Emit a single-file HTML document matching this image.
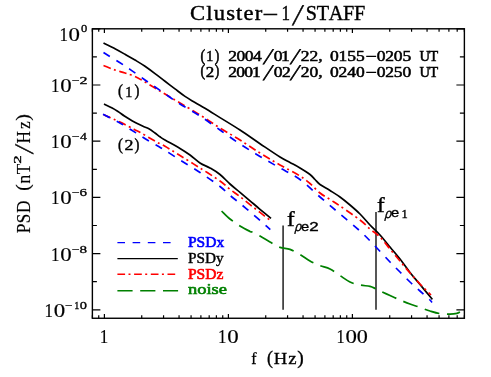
<!DOCTYPE html><html><head><meta charset="utf-8"><style>html,body{margin:0;padding:0;background:#fff;overflow:hidden}svg{display:block;mix-blend-mode:multiply}text{font-family:"Liberation Serif",serif;fill:#000}</style></head><body>
<svg width="491" height="377" viewBox="0 0 491 377">
<rect width="491" height="377" fill="#fff"/>
<path d="M283.1,225.4V309.8M376,212.1V309.8" stroke="#3a3a3a" stroke-width="1.7" fill="none"/>
<path d="M221.6,211.0C223.0,212.3 226.9,216.5 230.0,219.0C233.1,221.5 236.7,223.9 240.0,226.0C243.3,228.1 248.0,230.4 250.0,231.4C252.0,232.4 250.3,231.2 252.0,232.0C253.7,232.8 257.0,234.3 260.0,236.0C263.0,237.7 266.7,240.1 270.0,242.0C273.3,243.9 276.7,246.2 280.0,247.4C283.3,248.6 286.7,248.2 290.0,249.4C293.3,250.6 296.7,252.6 300.0,254.5C303.3,256.4 306.7,259.1 310.0,261.0C313.3,262.9 316.7,264.3 320.0,265.6C323.3,266.9 326.7,267.3 330.0,269.0C333.3,270.7 336.7,273.4 340.0,275.6C343.3,277.8 346.7,280.4 350.0,282.0C353.3,283.6 356.7,284.3 360.0,285.0C363.3,285.7 367.5,285.8 370.0,286.4C372.5,287.0 373.3,287.6 375.0,288.4C376.7,289.2 377.5,289.8 380.0,291.0C382.5,292.2 386.7,294.0 390.0,295.5C393.3,297.0 396.7,298.6 400.0,300.0C403.3,301.4 406.7,302.8 410.0,304.0C413.3,305.2 416.7,306.2 420.0,307.4C423.3,308.6 426.7,310.0 430.0,311.0C433.3,312.0 436.7,313.1 440.0,313.6C443.3,314.1 447.2,314.2 450.0,314.2C452.8,314.2 455.3,313.8 457.0,313.4C458.7,313.0 459.5,312.2 460.0,312.0" stroke="#008000" stroke-width="1.7" fill="none" stroke-dasharray="15.2 7.6"/>
<path d="M103.5,43.0C105.4,44.0 111.4,46.8 115.0,48.7C118.6,50.6 121.7,52.4 125.0,54.3C128.3,56.2 131.7,58.0 135.0,60.0C138.3,62.0 141.7,64.0 145.0,66.3C148.3,68.6 151.7,71.1 155.0,73.6C158.3,76.1 161.7,78.8 165.0,81.3C168.3,83.8 171.7,86.4 175.0,88.9C178.3,91.4 181.7,94.1 185.0,96.4C188.3,98.7 191.7,100.5 195.0,102.5C198.3,104.5 200.8,105.8 205.0,108.3C209.2,110.8 214.2,114.0 220.0,117.6C225.8,121.2 233.3,125.7 240.0,130.0C246.7,134.3 253.3,139.2 260.0,143.7C266.7,148.2 275.0,153.9 280.0,157.0C285.0,160.1 286.7,160.7 290.0,162.5C293.3,164.3 296.7,166.0 300.0,168.0C303.3,170.0 307.5,172.6 310.0,174.5C312.5,176.4 313.3,177.8 315.0,179.5C316.7,181.2 317.5,182.7 320.0,184.5C322.5,186.3 326.7,188.4 330.0,190.5C333.3,192.6 336.7,194.6 340.0,197.0C343.3,199.4 346.7,202.2 350.0,205.0C353.3,207.8 356.7,210.7 360.0,214.0C363.3,217.3 366.7,221.5 370.0,225.0C373.3,228.5 376.7,231.3 380.0,235.0C383.3,238.7 386.7,243.0 390.0,247.0C393.3,251.0 396.7,254.8 400.0,259.0C403.3,263.2 406.7,268.2 410.0,272.5C413.3,276.8 416.7,280.5 420.0,284.5C423.3,288.5 427.9,294.0 430.0,296.5C432.1,299.0 432.0,298.9 432.4,299.4" stroke="#000" stroke-width="1.7" fill="none"/>
<path d="M104.0,104.0C105.4,104.7 109.9,106.8 112.2,108.0C114.5,109.2 116.0,110.2 118.0,111.5C120.0,112.8 122.4,114.7 124.4,116.0C126.4,117.3 128.0,118.3 130.0,119.5C132.1,120.7 134.5,122.2 136.7,123.3C138.9,124.4 141.0,125.4 143.0,126.3C145.0,127.2 146.9,127.7 148.9,128.8C150.9,129.9 153.2,131.7 155.0,133.0C156.8,134.3 158.3,135.6 160.0,136.8C161.7,138.0 161.7,138.1 165.0,140.0C168.3,141.9 175.8,145.9 180.0,148.4C184.2,150.9 186.7,152.6 190.0,155.0C193.3,157.4 196.7,160.8 200.0,163.0C203.3,165.2 206.7,166.1 210.0,168.0C213.3,169.9 216.7,171.8 220.0,174.5C223.3,177.2 226.7,181.0 230.0,184.0C233.3,187.0 236.7,189.5 240.0,192.3C243.3,195.1 246.7,198.0 250.0,200.8C253.3,203.6 256.5,206.4 260.0,209.3C263.5,212.2 269.2,216.8 271.0,218.3" stroke="#000" stroke-width="1.7" fill="none"/>
<path d="M103.5,65.5C105.4,66.2 111.4,68.8 115.0,70.0C118.6,71.2 121.7,71.9 125.0,73.0C128.3,74.1 131.7,75.0 135.0,76.5C138.3,78.0 141.7,80.1 145.0,82.0C148.3,83.9 151.7,86.0 155.0,88.0C158.3,90.0 160.8,91.5 165.0,94.0C169.2,96.5 174.2,99.5 180.0,103.0C185.8,106.5 193.3,110.8 200.0,115.0C206.7,119.2 213.3,123.8 220.0,128.0C226.7,132.2 233.3,135.8 240.0,140.0C246.7,144.2 253.3,148.8 260.0,153.0C266.7,157.2 273.3,161.2 280.0,165.0C286.7,168.8 295.0,172.9 300.0,176.0C305.0,179.1 306.7,180.7 310.0,183.5C313.3,186.3 316.7,190.3 320.0,193.0C323.3,195.7 326.7,197.3 330.0,199.5C333.3,201.7 335.0,202.6 340.0,206.0C345.0,209.4 355.0,216.2 360.0,220.0C365.0,223.8 366.7,226.2 370.0,229.0C373.3,231.8 376.7,233.7 380.0,237.0C383.3,240.3 386.7,245.0 390.0,249.0C393.3,253.0 396.7,257.0 400.0,261.0C403.3,265.0 406.7,269.2 410.0,273.0C413.3,276.8 416.5,280.3 420.0,284.0C423.5,287.7 429.2,293.2 431.0,295.0" stroke="#ff0000" stroke-width="1.7" fill="none" stroke-dasharray="7.7 3.4 2 3.6"/>
<path d="M103.5,114.6C105.4,115.5 111.4,118.1 115.0,119.8C118.6,121.5 121.8,123.0 125.0,124.6C128.2,126.2 131.6,128.1 134.2,129.4C136.8,130.7 138.0,131.2 140.3,132.5C142.7,133.8 145.9,135.8 148.3,137.2C150.8,138.6 153.1,139.9 155.0,141.0C156.9,142.1 158.3,142.9 160.0,143.8C161.7,144.7 161.7,144.4 165.0,146.3C168.3,148.2 174.2,151.9 180.0,155.5C185.8,159.1 193.3,163.8 200.0,168.0C206.7,172.2 215.0,177.4 220.0,181.0C225.0,184.6 226.7,186.7 230.0,189.3C233.3,191.9 236.7,194.1 240.0,196.7C243.3,199.2 246.7,202.0 250.0,204.6C253.3,207.2 256.5,209.7 260.0,212.4C263.5,215.1 269.2,219.6 271.0,221.0" stroke="#ff0000" stroke-width="1.7" fill="none" stroke-dasharray="7.7 3.4 2 3.6"/>
<path d="M103.5,52.5C107.1,54.8 118.1,61.4 125.0,66.0C131.9,70.6 139.0,75.8 145.0,80.0C151.0,84.2 156.7,88.0 161.0,91.0C165.3,94.0 167.8,95.8 171.0,98.0C174.2,100.2 175.2,101.0 180.0,104.0C184.8,107.0 193.3,111.7 200.0,116.0C206.7,120.3 213.3,125.3 220.0,130.0C226.7,134.7 233.3,139.6 240.0,144.0C246.7,148.4 253.3,152.4 260.0,156.4C266.7,160.4 273.3,164.2 280.0,168.0C286.7,171.8 293.3,174.7 300.0,179.5C306.7,184.3 313.3,191.2 320.0,197.0C326.7,202.8 333.3,208.3 340.0,214.0C346.7,219.7 354.2,225.7 360.0,231.0C365.8,236.3 370.0,240.8 375.0,246.0C380.0,251.2 385.8,257.7 390.0,262.0C394.2,266.3 396.7,268.7 400.0,272.0C403.3,275.3 406.7,278.8 410.0,282.0C413.3,285.2 416.7,288.0 420.0,291.0C423.3,294.0 428.0,298.1 430.0,300.0C432.0,301.9 431.7,302.2 432.0,302.6" stroke="#0000ff" stroke-width="1.7" fill="none" stroke-dasharray="7.6 7.6"/>
<path d="M103.0,114.2C105.0,115.2 111.7,118.7 115.0,120.4C118.3,122.1 119.1,122.5 122.6,124.6C126.1,126.7 131.6,130.2 136.0,132.9C140.4,135.6 145.1,138.7 148.9,141.0C152.7,143.3 156.0,145.0 158.7,146.6C161.4,148.2 161.4,148.1 165.0,150.3C168.6,152.5 174.2,156.3 180.0,160.0C185.8,163.7 193.3,168.1 200.0,172.5C206.7,176.9 215.0,182.7 220.0,186.5C225.0,190.3 226.7,192.6 230.0,195.4C233.3,198.2 236.7,200.7 240.0,203.4C243.3,206.1 246.7,209.0 250.0,211.8C253.3,214.6 256.6,217.3 260.0,220.3C263.4,223.3 268.6,228.1 270.3,229.6" stroke="#0000ff" stroke-width="1.7" fill="none" stroke-dasharray="7.6 7.6"/>
<rect x="92.38" y="28.80" width="372.00" height="289.46" fill="none" stroke="#000" stroke-width="1.4"/>
<path d="M92.38,318.26v-3.0M92.38,28.80v3.0M98.73,318.26v-3.0M98.73,28.80v3.0M104.40,318.26v-4.2M104.40,28.80v4.2M141.73,318.26v-3.0M141.73,28.80v3.0M163.56,318.26v-3.0M163.56,28.80v3.0M179.06,318.26v-3.0M179.06,28.80v3.0M191.07,318.26v-3.0M191.07,28.80v3.0M200.89,318.26v-3.0M200.89,28.80v3.0M209.19,318.26v-3.0M209.19,28.80v3.0M216.38,318.26v-3.0M216.38,28.80v3.0M222.73,318.26v-3.0M222.73,28.80v3.0M228.40,318.26v-4.2M228.40,28.80v4.2M265.73,318.26v-3.0M265.73,28.80v3.0M287.56,318.26v-3.0M287.56,28.80v3.0M303.06,318.26v-3.0M303.06,28.80v3.0M315.07,318.26v-3.0M315.07,28.80v3.0M324.89,318.26v-3.0M324.89,28.80v3.0M333.19,318.26v-3.0M333.19,28.80v3.0M340.38,318.26v-3.0M340.38,28.80v3.0M346.73,318.26v-3.0M346.73,28.80v3.0M352.40,318.26v-4.2M352.40,28.80v4.2M389.73,318.26v-3.0M389.73,28.80v3.0M411.56,318.26v-3.0M411.56,28.80v3.0M427.06,318.26v-3.0M427.06,28.80v3.0M439.07,318.26v-3.0M439.07,28.80v3.0M448.89,318.26v-3.0M448.89,28.80v3.0M457.19,318.26v-3.0M457.19,28.80v3.0M464.38,318.26v-3.0M464.38,28.80v3.0M92.38,28.80h8.0M464.38,28.80h-8.0M92.38,56.90h4.5M464.38,56.90h-4.5M92.38,85.00h8.0M464.38,85.00h-8.0M92.38,113.10h4.5M464.38,113.10h-4.5M92.38,141.20h8.0M464.38,141.20h-8.0M92.38,169.30h4.5M464.38,169.30h-4.5M92.38,197.40h8.0M464.38,197.40h-8.0M92.38,225.50h4.5M464.38,225.50h-4.5M92.38,253.60h8.0M464.38,253.60h-8.0M92.38,281.70h4.5M464.38,281.70h-4.5M92.38,309.80h8.0M464.38,309.80h-8.0" stroke="#000" stroke-width="1.2" fill="none"/>
<path d="M117.4,242.6H177.8" stroke="#0000ff" stroke-width="1.4" stroke-dasharray="7.6 7.6"/>
<path d="M117.4,258.6H177.8" stroke="#000" stroke-width="1.4"/>
<path d="M117.4,274.3H177.8" stroke="#ff0000" stroke-width="1.4" stroke-dasharray="7.7 3.4 2 3.6"/>
<path d="M117.4,290.7H178.1" stroke="#008000" stroke-width="1.4" stroke-dasharray="15.2 7.6"/>
<text transform="translate(187.95,247.00) scale(1.0348,1.0000)" style="font-family:'Liberation Serif',serif;font-size:15px;font-kerning:none;fill:#0000ff;stroke:#0000ff;stroke-width:0.6;">PSDx</text>
<text transform="translate(187.96,263.00) scale(1.0195,1.0000)" style="font-family:'Liberation Serif',serif;font-size:15px;font-kerning:none;stroke:#000;stroke-width:0.4;">PSDy</text>
<text transform="translate(187.95,278.60) scale(1.0383,1.0000)" style="font-family:'Liberation Serif',serif;font-size:15px;font-kerning:none;fill:#ff0000;stroke:#ff0000;stroke-width:0.6;">PSDz</text>
<text transform="translate(187.98,294.40) scale(1.2338,1.0000)" style="font-family:'Liberation Serif',serif;font-size:15px;font-kerning:none;fill:#008000;stroke:#008000;stroke-width:0.6;">noise</text>
<text transform="translate(190.07,20.00) scale(1.1200,1.0000)" style="font-family:'Liberation Serif',serif;font-size:20.2px;font-kerning:none;letter-spacing:1.008px;stroke:#000;stroke-width:0.4;">Cluster</text>
<text transform="translate(262.61,21.30) scale(1.3830,1.0000)" style="font-family:'Liberation Serif',serif;font-size:20.2px;font-kerning:none;stroke:#000;stroke-width:0.55;">−</text>
<text transform="translate(281.50,20.00) scale(0.8437,1.0000)" style="font-family:'Liberation Serif',serif;font-size:20.2px;font-kerning:none;stroke:#000;stroke-width:0.4;">1</text>
<text transform="translate(292.05,24.71) skewX(-10.46) scale(1.4801,1.4801)" style="font-family:'Liberation Serif',serif;font-size:20.2px;font-kerning:none;stroke:#000;stroke-width:0.3;">/</text>
<text transform="translate(305.65,20.00) scale(1.0000,1.0000)" style="font-family:'Liberation Serif',serif;font-size:20.2px;font-kerning:none;letter-spacing:-0.237px;stroke:#000;stroke-width:0.4;">STAFF</text>
<text transform="translate(200.38,60.63) scale(0.9601,1.1180)" style="font-family:'Liberation Serif',serif;font-size:14.6px;font-kerning:none;stroke:#000;stroke-width:0.52;">(</text>
<text transform="translate(206.15,60.90) scale(0.9728,1.0000)" style="font-family:'Liberation Serif',serif;font-size:14.6px;font-kerning:none;stroke:#000;stroke-width:0.52;">1</text>
<text transform="translate(214.86,60.63) scale(0.9334,1.1180)" style="font-family:'Liberation Serif',serif;font-size:14.6px;font-kerning:none;stroke:#000;stroke-width:0.52;">)</text>
<text transform="translate(228.33,60.90) scale(1.2000,1.0000)" style="font-family:'Liberation Serif',serif;font-size:14.6px;font-kerning:none;letter-spacing:-0.416px;stroke:#000;stroke-width:0.52;">2004</text>
<text transform="translate(263.07,64.08) skewX(-17.10) scale(1.5154,1.5154)" style="font-family:'Liberation Serif',serif;font-size:14.6px;font-kerning:none;stroke:#000;stroke-width:0.52;">/</text>
<text transform="translate(273.73,60.90) scale(1.2000,1.0000)" style="font-family:'Liberation Serif',serif;font-size:14.6px;font-kerning:none;letter-spacing:-1.250px;stroke:#000;stroke-width:0.52;">01</text>
<text transform="translate(290.07,64.08) skewX(-17.45) scale(1.5154,1.5154)" style="font-family:'Liberation Serif',serif;font-size:14.6px;font-kerning:none;stroke:#000;stroke-width:0.52;">/</text>
<text transform="translate(300.73,60.90) scale(1.2000,1.0000)" style="font-family:'Liberation Serif',serif;font-size:14.6px;font-kerning:none;letter-spacing:-0.011px;stroke:#000;stroke-width:0.52;">22,</text>
<text transform="translate(329.93,60.90) scale(1.2000,1.0000)" style="font-family:'Liberation Serif',serif;font-size:14.6px;font-kerning:none;letter-spacing:-0.052px;stroke:#000;stroke-width:0.52;">0155</text>
<text transform="translate(365.54,61.40) scale(1.3247,1.0000)" style="font-family:'Liberation Serif',serif;font-size:14.6px;font-kerning:none;stroke:#000;stroke-width:0.7;">−</text>
<text transform="translate(376.73,60.90) scale(1.2000,1.0000)" style="font-family:'Liberation Serif',serif;font-size:14.6px;font-kerning:none;letter-spacing:-0.163px;stroke:#000;stroke-width:0.52;">0205</text>
<text transform="translate(419.49,60.90) scale(1.0000,1.0000)" style="font-family:'Liberation Serif',serif;font-size:14.6px;font-kerning:none;letter-spacing:-0.813px;stroke:#000;stroke-width:0.52;">UT</text>
<text transform="translate(200.38,76.33) scale(0.9601,1.1180)" style="font-family:'Liberation Serif',serif;font-size:14.6px;font-kerning:none;stroke:#000;stroke-width:0.52;">(</text>
<text transform="translate(205.65,76.60) scale(1.1618,1.0000)" style="font-family:'Liberation Serif',serif;font-size:14.6px;font-kerning:none;stroke:#000;stroke-width:0.52;">2</text>
<text transform="translate(214.86,76.33) scale(0.9334,1.1180)" style="font-family:'Liberation Serif',serif;font-size:14.6px;font-kerning:none;stroke:#000;stroke-width:0.52;">)</text>
<text transform="translate(228.33,76.60) scale(1.2000,1.0000)" style="font-family:'Liberation Serif',serif;font-size:14.6px;font-kerning:none;letter-spacing:-0.699px;stroke:#000;stroke-width:0.52;">2001</text>
<text transform="translate(263.07,79.78) skewX(-17.10) scale(1.5154,1.5154)" style="font-family:'Liberation Serif',serif;font-size:14.6px;font-kerning:none;stroke:#000;stroke-width:0.52;">/</text>
<text transform="translate(273.73,76.60) scale(1.2000,1.0000)" style="font-family:'Liberation Serif',serif;font-size:14.6px;font-kerning:none;letter-spacing:-0.405px;stroke:#000;stroke-width:0.52;">02</text>
<text transform="translate(290.07,79.78) skewX(-17.45) scale(1.5154,1.5154)" style="font-family:'Liberation Serif',serif;font-size:14.6px;font-kerning:none;stroke:#000;stroke-width:0.52;">/</text>
<text transform="translate(300.73,76.60) scale(1.2000,1.0000)" style="font-family:'Liberation Serif',serif;font-size:14.6px;font-kerning:none;letter-spacing:-0.011px;stroke:#000;stroke-width:0.52;">20,</text>
<text transform="translate(329.93,76.60) scale(1.2000,1.0000)" style="font-family:'Liberation Serif',serif;font-size:14.6px;font-kerning:none;letter-spacing:-0.057px;stroke:#000;stroke-width:0.52;">0240</text>
<text transform="translate(365.54,77.10) scale(1.3247,1.0000)" style="font-family:'Liberation Serif',serif;font-size:14.6px;font-kerning:none;stroke:#000;stroke-width:0.7;">−</text>
<text transform="translate(376.73,76.60) scale(1.2000,1.0000)" style="font-family:'Liberation Serif',serif;font-size:14.6px;font-kerning:none;letter-spacing:-0.168px;stroke:#000;stroke-width:0.52;">0250</text>
<text transform="translate(419.49,76.60) scale(1.0000,1.0000)" style="font-family:'Liberation Serif',serif;font-size:14.6px;font-kerning:none;letter-spacing:-0.813px;stroke:#000;stroke-width:0.52;">UT</text>
<text transform="translate(117.95,96.18) scale(1.0204,1.1409)" style="font-family:'Liberation Serif',serif;font-size:14.5px;font-kerning:none;stroke:#000;stroke-width:0.4;">(</text>
<text transform="translate(125.15,96.70) scale(0.9795,1.0000)" style="font-family:'Liberation Serif',serif;font-size:14.5px;font-kerning:none;stroke:#000;stroke-width:0.4;">1</text>
<text transform="translate(134.62,96.18) scale(1.0204,1.1409)" style="font-family:'Liberation Serif',serif;font-size:14.5px;font-kerning:none;stroke:#000;stroke-width:0.4;">)</text>
<text transform="translate(117.95,149.58) scale(1.0204,1.1409)" style="font-family:'Liberation Serif',serif;font-size:14.5px;font-kerning:none;stroke:#000;stroke-width:0.4;">(</text>
<text transform="translate(124.41,150.10) scale(1.2387,1.0000)" style="font-family:'Liberation Serif',serif;font-size:14.5px;font-kerning:none;stroke:#000;stroke-width:0.4;">2</text>
<text transform="translate(134.62,149.58) scale(1.0204,1.1409)" style="font-family:'Liberation Serif',serif;font-size:14.5px;font-kerning:none;stroke:#000;stroke-width:0.4;">)</text>
<text transform="translate(287.00,225.70) scale(1.0871,0.9536)" style="font-family:'Liberation Serif',serif;font-size:21px;font-kerning:none;stroke:#000;stroke-width:0.45;">f</text>
<text transform="translate(294.32,231.16) skewX(-14) scale(1.0579,1.1992)" style="font-family:'Liberation Sans',sans-serif;font-size:11.4px;font-kerning:none;stroke:#000;stroke-width:0.3;">ρ</text>
<text transform="translate(300.88,230.87) scale(1.2899,1.1528)" style="font-family:'Liberation Sans',sans-serif;font-size:11.4px;font-kerning:none;stroke:#000;stroke-width:0.3;">e</text>
<text transform="translate(309.15,231.00) scale(1.4324,1.0316)" style="font-family:'Liberation Sans',sans-serif;font-size:11.8px;font-kerning:none;stroke:#000;stroke-width:0.35;">2</text>
<text transform="translate(377.00,212.20) scale(1.0871,0.9536)" style="font-family:'Liberation Serif',serif;font-size:21px;font-kerning:none;stroke:#000;stroke-width:0.45;">f</text>
<text transform="translate(384.32,217.66) skewX(-14) scale(1.0579,1.1992)" style="font-family:'Liberation Sans',sans-serif;font-size:11.4px;font-kerning:none;stroke:#000;stroke-width:0.3;">ρ</text>
<text transform="translate(390.88,217.37) scale(1.2899,1.1528)" style="font-family:'Liberation Sans',sans-serif;font-size:11.4px;font-kerning:none;stroke:#000;stroke-width:0.3;">e</text>
<text transform="translate(401.40,217.50) scale(1.0592,1.0912)" style="font-family:'Liberation Serif',serif;font-size:11.8px;font-kerning:none;stroke:#000;stroke-width:0.35;">1</text>
<text transform="translate(59.40,40.80) scale(0.9851,1.0500)" style="font-family:'Liberation Serif',serif;font-size:17.3px;font-kerning:none;stroke:#000;stroke-width:0.15;">1</text><text transform="translate(68.53,40.80) scale(1.3229,1.0500)" style="font-family:'Liberation Serif',serif;font-size:17.3px;font-kerning:none;stroke:#000;stroke-width:0.15;">0</text>
<text transform="translate(80.92,32.40) scale(1.2260,1.0000)" style="font-family:'Liberation Serif',serif;font-size:10.2px;font-kerning:none;stroke:#000;stroke-width:0.3;">0</text>
<text transform="translate(51.10,92.00) scale(0.9851,1.0500)" style="font-family:'Liberation Serif',serif;font-size:17.3px;font-kerning:none;stroke:#000;stroke-width:0.15;">1</text><text transform="translate(60.23,92.00) scale(1.3229,1.0500)" style="font-family:'Liberation Serif',serif;font-size:17.3px;font-kerning:none;stroke:#000;stroke-width:0.15;">0</text>
<text transform="translate(72.02,84.00) scale(1.3484,1.0000)" style="font-family:'Liberation Serif',serif;font-size:10.2px;font-kerning:none;stroke:#000;stroke-width:0.3;">−</text>
<text transform="translate(79.50,84.00) scale(1.5652,1.0000)" style="font-family:'Liberation Serif',serif;font-size:10.2px;font-kerning:none;stroke:#000;stroke-width:0.3;">2</text>
<text transform="translate(51.10,148.20) scale(0.9851,1.0500)" style="font-family:'Liberation Serif',serif;font-size:17.3px;font-kerning:none;stroke:#000;stroke-width:0.15;">1</text><text transform="translate(60.23,148.20) scale(1.3229,1.0500)" style="font-family:'Liberation Serif',serif;font-size:17.3px;font-kerning:none;stroke:#000;stroke-width:0.15;">0</text>
<text transform="translate(72.02,140.20) scale(1.3484,1.0000)" style="font-family:'Liberation Serif',serif;font-size:10.2px;font-kerning:none;stroke:#000;stroke-width:0.3;">−</text>
<text transform="translate(79.93,140.20) scale(1.3498,1.0000)" style="font-family:'Liberation Serif',serif;font-size:10.2px;font-kerning:none;stroke:#000;stroke-width:0.3;">4</text>
<text transform="translate(51.10,204.40) scale(0.9851,1.0500)" style="font-family:'Liberation Serif',serif;font-size:17.3px;font-kerning:none;stroke:#000;stroke-width:0.15;">1</text><text transform="translate(60.23,204.40) scale(1.3229,1.0500)" style="font-family:'Liberation Serif',serif;font-size:17.3px;font-kerning:none;stroke:#000;stroke-width:0.15;">0</text>
<text transform="translate(72.02,196.40) scale(1.3484,1.0000)" style="font-family:'Liberation Serif',serif;font-size:10.2px;font-kerning:none;stroke:#000;stroke-width:0.3;">−</text>
<text transform="translate(79.56,196.40) scale(1.4686,1.0000)" style="font-family:'Liberation Serif',serif;font-size:10.2px;font-kerning:none;stroke:#000;stroke-width:0.3;">6</text>
<text transform="translate(51.10,260.60) scale(0.9851,1.0500)" style="font-family:'Liberation Serif',serif;font-size:17.3px;font-kerning:none;stroke:#000;stroke-width:0.15;">1</text><text transform="translate(60.23,260.60) scale(1.3229,1.0500)" style="font-family:'Liberation Serif',serif;font-size:17.3px;font-kerning:none;stroke:#000;stroke-width:0.15;">0</text>
<text transform="translate(72.02,252.60) scale(1.3484,1.0000)" style="font-family:'Liberation Serif',serif;font-size:10.2px;font-kerning:none;stroke:#000;stroke-width:0.3;">−</text>
<text transform="translate(79.62,252.60) scale(1.4804,1.0000)" style="font-family:'Liberation Serif',serif;font-size:10.2px;font-kerning:none;stroke:#000;stroke-width:0.3;">8</text>
<text transform="translate(44.60,316.80) scale(0.9851,1.0500)" style="font-family:'Liberation Serif',serif;font-size:17.3px;font-kerning:none;stroke:#000;stroke-width:0.15;">1</text><text transform="translate(53.73,316.80) scale(1.3229,1.0500)" style="font-family:'Liberation Serif',serif;font-size:17.3px;font-kerning:none;stroke:#000;stroke-width:0.15;">0</text>
<text transform="translate(65.25,308.80) scale(1.2852,1.0000)" style="font-family:'Liberation Serif',serif;font-size:10.2px;font-kerning:none;stroke:#000;stroke-width:0.3;">−</text>
<text transform="translate(74.20,308.80) scale(1.0025,1.0000)" style="font-family:'Liberation Serif',serif;font-size:10.2px;font-kerning:none;stroke:#000;stroke-width:0.3;">1</text>
<text transform="translate(79.65,308.80) scale(1.4110,1.0000)" style="font-family:'Liberation Serif',serif;font-size:10.2px;font-kerning:none;stroke:#000;stroke-width:0.3;">0</text>
<text transform="translate(99.80,343.20) scale(0.9851,1.0500)" style="font-family:'Liberation Serif',serif;font-size:17.3px;font-kerning:none;stroke:#000;stroke-width:0.15;">1</text>
<text transform="translate(218.00,343.20) scale(0.9851,1.0500)" style="font-family:'Liberation Serif',serif;font-size:17.3px;font-kerning:none;stroke:#000;stroke-width:0.15;">1</text><text transform="translate(227.13,343.20) scale(1.3229,1.0500)" style="font-family:'Liberation Serif',serif;font-size:17.3px;font-kerning:none;stroke:#000;stroke-width:0.15;">0</text>
<text transform="translate(336.45,343.20) scale(0.9523,1.0500)" style="font-family:'Liberation Serif',serif;font-size:17.3px;font-kerning:none;stroke:#000;stroke-width:0.15;">1</text><text transform="translate(345.43,343.20) scale(1.3229,1.0500)" style="font-family:'Liberation Serif',serif;font-size:17.3px;font-kerning:none;stroke:#000;stroke-width:0.15;">0</text><text transform="translate(356.66,343.20) scale(1.2820,1.0500)" style="font-family:'Liberation Serif',serif;font-size:17.3px;font-kerning:none;stroke:#000;stroke-width:0.15;">0</text>
<text transform="translate(251.31,363.50) scale(0.9180,1.0000)" style="font-family:'Liberation Serif',serif;font-size:17.3px;font-kerning:none;stroke:#000;stroke-width:0.3;">f</text>
<text transform="translate(267.01,363.62) scale(1.0353,1.1347)" style="font-family:'Liberation Serif',serif;font-size:17.3px;font-kerning:none;stroke:#000;stroke-width:0.3;">(</text>
<text transform="translate(273.66,363.50) scale(1.0800,1.0000)" style="font-family:'Liberation Serif',serif;font-size:17.3px;font-kerning:none;letter-spacing:0.993px;stroke:#000;stroke-width:0.3;">Hz</text>
<text transform="translate(297.17,363.62) scale(1.1253,1.1347)" style="font-family:'Liberation Serif',serif;font-size:17.3px;font-kerning:none;stroke:#000;stroke-width:0.3;">)</text>
<text transform="translate(29.6,233) rotate(-90) translate(-0.30,0.00) scale(1.0000,1.0900)" style="font-family:'Liberation Serif',serif;font-size:17.3px;font-kerning:none;letter-spacing:0.527px;stroke:#000;stroke-width:0.15;">PSD</text>
<text transform="translate(29.6,233) rotate(-90) translate(42.14,-0.23) scale(1.1253,1.1475)" style="font-family:'Liberation Serif',serif;font-size:17.3px;font-kerning:none;stroke:#000;stroke-width:0.15;">(</text>
<text transform="translate(29.6,233) rotate(-90) translate(49.60,0.00) scale(1.0000,1.0900)" style="font-family:'Liberation Serif',serif;font-size:17.3px;font-kerning:none;letter-spacing:0.467px;stroke:#000;stroke-width:0.15;">nT</text>
<text transform="translate(29.6,233) rotate(-90) translate(69.35,-8.40) scale(1.6630,1.0900)" style="font-family:'Liberation Serif',serif;font-size:10.2px;font-kerning:none;stroke:#000;stroke-width:0.35;">2</text>
<text transform="translate(29.6,233) rotate(-90) translate(78.64,3.44) skewX(-9.41) scale(1.5467,1.5467)" style="font-family:'Liberation Serif',serif;font-size:17.3px;font-kerning:none;stroke:#000;stroke-width:0.25;">/</text>
<text transform="translate(29.6,233) rotate(-90) translate(89.60,0.00) scale(1.0000,1.0900)" style="font-family:'Liberation Serif',serif;font-size:17.3px;font-kerning:none;letter-spacing:2.008px;stroke:#000;stroke-width:0.15;">Hz</text>
<text transform="translate(29.6,233) rotate(-90) translate(112.25,-0.23) scale(1.1703,1.1475)" style="font-family:'Liberation Serif',serif;font-size:17.3px;font-kerning:none;stroke:#000;stroke-width:0.15;">)</text>
</svg></body></html>
